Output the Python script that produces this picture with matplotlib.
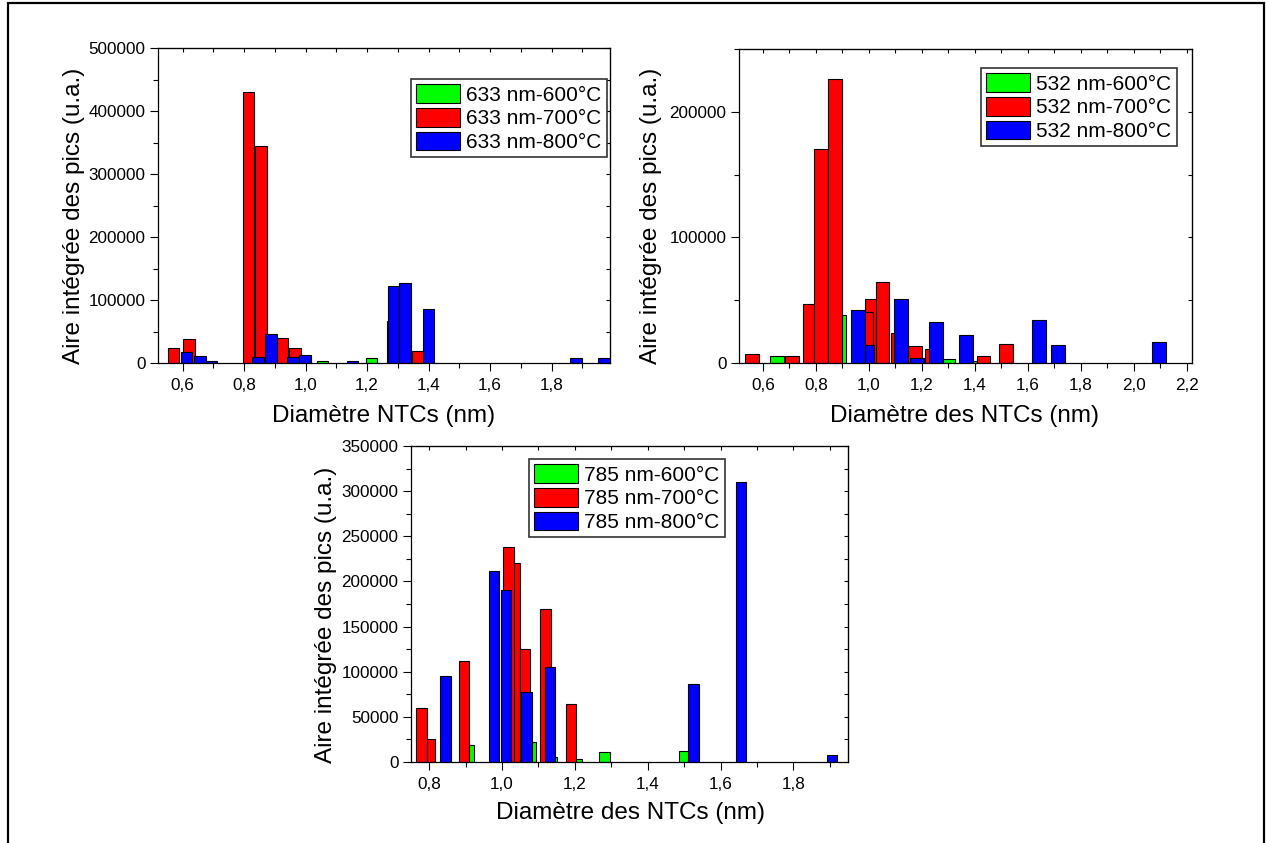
import matplotlib
matplotlib.use("Agg")
import matplotlib.pyplot as plt
from matplotlib.patches import Rectangle
from matplotlib.ticker import MultipleLocator, FuncFormatter

plt.rcParams['font.family'] = ['Liberation Sans', 'DejaVu Sans']

W, H = 1268, 843

# ---------------- data ----------------
# 633 nm
d633_green_x = [1.056, 1.215]
d633_green_y = [3200, 7900]
d633_red_x = [0.570, 0.621, 0.8136, 0.855, 0.924, 0.965, 1.282, 1.365]
d633_red_y = [24000, 38000, 430000, 345000, 40000, 24000, 67000, 18500]
d633_blue_x = [0.6136, 0.656, 0.695, 0.8455, 0.888, 0.959, 0.998, 1.152,
               1.288, 1.3236, 1.399, 1.879, 1.970]
d633_blue_y = [17500, 10600, 2600, 9500, 46000, 9500, 12700, 3200,
               121700, 127000, 85700, 7900, 7900]
labels_633 = ['633 nm-600°C', '633 nm-700°C', '633 nm-800°C']

# 532 nm
d532_green_x = [0.653, 0.888, 1.300, 1.406]
d532_green_y = [5600, 38100, 3200, 1600]
d532_red_x = [0.560, 0.709, 0.776, 0.8186, 0.8728, 1.010, 0.990, 1.052,
              1.110, 1.174, 1.238, 1.433, 1.517]
d532_red_y = [7100, 5600, 46600, 170600, 226200, 51300, 41000, 64300,
              23800, 13500, 11400, 5600, 15100]
d532_blue_x = [0.9924, 0.958, 1.1216, 1.182, 1.254, 1.367, 1.642, 1.715, 2.096]
d532_blue_y = [14300, 42300, 50800, 4200, 32300, 22000, 33900, 14300, 16900]
labels_532 = ['532 nm-600°C', '532 nm-700°C', '532 nm-800°C']

# 785 nm
d785_green_x = [0.9085, 1.078, 1.1365, 1.205, 1.281, 1.500]
d785_green_y = [18800, 22500, 5900, 3000, 11100, 12600]
d785_red_x = [0.801, 0.779, 0.8948, 1.034, 1.018, 1.063, 1.119, 1.189]
d785_red_y = [25100, 59900, 112300, 220200, 238300, 125600, 170000, 64700]
d785_blue_x = [0.845, 0.978, 1.011, 1.067, 1.131, 1.5257, 1.6558, 1.9066]
d785_blue_y = [95300, 211700, 190700, 77200, 105700, 86500, 309600, 8100]
labels_785 = ['785 nm-600°C', '785 nm-700°C', '785 nm-800°C']

colors = ['#00FF00', '#FF0000', '#0000FF']

fig = plt.figure(figsize=(W / 100, H / 100), dpi=100)

# outer frame
fig.patches.append(Rectangle((8 / W, -0.01), (1264 - 8) / W, 1 - 3 / H + 0.01,
                             transform=fig.transFigure, fill=False,
                             edgecolor='black', linewidth=1.6))


def px_rect(l, r, t, b):
    return [l / W, 1 - b / H, (r - l) / W, (b - t) / H]


comma_fmt = FuncFormatter(lambda v, p: ('%.1f' % v).replace('.', ','))


def make_axes(rect, series, width, xlim, ylim, xmaj, ymaj, ymin_step, labels,
              leg_xy):
    ax = fig.add_axes(px_rect(*rect))
    handles = []
    for (xs, ys), c, lab in zip(series, colors, labels):
        b = ax.bar(xs, ys, width=width, color=c, edgecolor='black',
                   linewidth=0.8, label=lab)
        handles.append(b)
    ax.set_xlim(*xlim)
    ax.set_ylim(*ylim)
    ax.xaxis.set_major_locator(MultipleLocator(xmaj))
    ax.xaxis.set_minor_locator(MultipleLocator(xmaj / 2))
    ax.yaxis.set_major_locator(MultipleLocator(ymaj))
    ax.yaxis.set_minor_locator(MultipleLocator(ymin_step))
    ax.xaxis.set_major_formatter(comma_fmt)
    ax.yaxis.set_major_formatter(FuncFormatter(lambda v, p: '%d' % v))
    ax.tick_params(which='major', direction='out', length=6, width=0.8,
                   labelsize=12.3)
    ax.tick_params(axis='x', which='major', pad=5)
    ax.tick_params(axis='y', which='major', pad=3)
    ax.tick_params(which='minor', direction='out', length=3.5, width=0.8)
    for s in ax.spines.values():
        s.set_linewidth(0.9)
    # mirrored inward ticks on top/right
    top = ax.secondary_xaxis('top')
    top.xaxis.set_major_locator(MultipleLocator(xmaj))
    top.xaxis.set_minor_locator(MultipleLocator(xmaj / 2))
    top.tick_params(which='both', direction='in', length=3, width=0.8,
                    labeltop=False)
    right = ax.secondary_yaxis('right')
    right.yaxis.set_major_locator(MultipleLocator(ymaj))
    right.yaxis.set_minor_locator(MultipleLocator(ymin_step))
    right.tick_params(which='both', direction='in', length=3, width=0.8,
                      labelright=False)
    leg = ax.legend(handles=handles, loc='upper left',
                    bbox_to_anchor=(leg_xy[0] / W, 1 - leg_xy[1] / H),
                    bbox_transform=fig.transFigure, borderaxespad=0,
                    fontsize=15, fancybox=False, framealpha=1,
                    edgecolor='#333333', handlelength=2.1, handleheight=1.0,
                    labelspacing=0.16, handletextpad=0.3, borderpad=0.25)
    leg.get_frame().set_linewidth(1.2)
    return ax


make_axes((158, 610, 48, 363),
          [(d633_green_x, d633_green_y), (d633_red_x, d633_red_y),
           (d633_blue_x, d633_blue_y)],
          0.037, (0.52, 1.99), (0, 500000), 0.2, 100000, 50000, labels_633,
          (411, 79))

make_axes((739, 1192, 49, 363),
          [(d532_green_x, d532_green_y), (d532_red_x, d532_red_y),
           (d532_blue_x, d532_blue_y)],
          0.052, (0.51, 2.22), (0, 250000), 0.2, 100000, 50000, labels_532,
          (981, 68))

make_axes((411, 848, 446, 762),
          [(d785_green_x, d785_green_y), (d785_red_x, d785_red_y),
           (d785_blue_x, d785_blue_y)],
          0.0284, (0.75, 1.95), (0, 350000), 0.2, 50000, 25000, labels_785,
          (529, 459))

ylab = 'Aire intégrée des pics (u.a.)'
fs_lab = 17.5
fig.text(74 / W, 1 - 216 / H, ylab, rotation=90, ha='center', va='center',
         fontsize=fs_lab)
fig.text(651 / W, 1 - 216 / H, ylab, rotation=90, ha='center', va='center',
         fontsize=fs_lab)
fig.text(326 / W, 1 - 615 / H, ylab, rotation=90, ha='center', va='center',
         fontsize=fs_lab)
fig.text(384 / W, 1 - 416 / H, 'Diamètre NTCs (nm)', ha='center',
         va='center', fontsize=fs_lab)
fig.text(965 / W, 1 - 416 / H, 'Diamètre des NTCs (nm)', ha='center',
         va='center', fontsize=fs_lab)
fig.text(630 / W, 1 - 813 / H, 'Diamètre des NTCs (nm)', ha='center',
         va='center', fontsize=fs_lab)

fig.savefig('out.png', dpi=100)
